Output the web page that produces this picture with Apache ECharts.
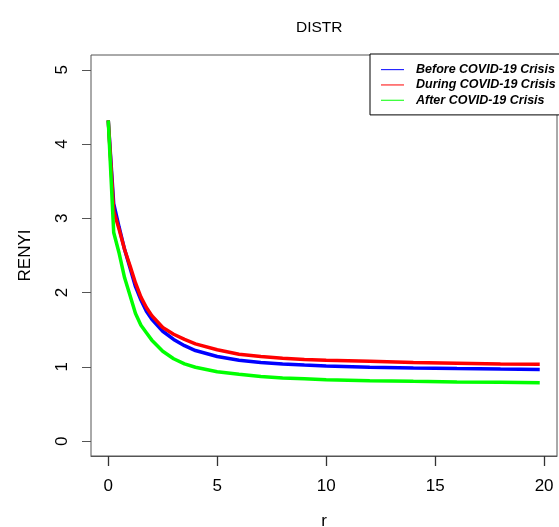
<!DOCTYPE html>
<html>
<head>
<meta charset="utf-8">
<script src="https://cdn.jsdelivr.net/npm/echarts@6/dist/echarts.min.js"></script>
<style>
html,body{margin:0;padding:0;background:#fff;}
#chart{width:559px;height:527px;}
</style>
</head>
<body>
<div id="chart"></div>
<script>
var rValues = [0, 0.25, 0.5, 0.75, 1, 1.25, 1.5, 1.75, 2, 2.5, 3, 3.5, 4, 5, 6, 7, 8, 9, 10, 12, 14, 16, 18, 19.8];
var beforeCrisis = [4.32, 3.20, 2.88, 2.58, 2.33, 2.08, 1.90, 1.75, 1.64, 1.48, 1.37, 1.285, 1.22, 1.14, 1.09, 1.06, 1.04, 1.025, 1.012, 0.995, 0.985, 0.977, 0.97, 0.964];
var duringCrisis = [4.32, 3.10, 2.85, 2.58, 2.36, 2.13, 1.94, 1.80, 1.69, 1.53, 1.44, 1.37, 1.31, 1.23, 1.17, 1.14, 1.115, 1.10, 1.09, 1.075, 1.06, 1.05, 1.04, 1.035];
var afterCrisis = [4.32, 2.81, 2.53, 2.20, 1.96, 1.72, 1.56, 1.46, 1.36, 1.21, 1.11, 1.04, 0.995, 0.935, 0.90, 0.87, 0.85, 0.84, 0.828, 0.815, 0.806, 0.798, 0.792, 0.786];
var seriesNames = ['Before COVID-19 Crisis', 'During COVID-19 Crisis', 'After COVID-19 Crisis'];
var xTicks = [0, 5, 10, 15, 20];
var yTicks = [0, 1, 2, 3, 4, 5];

var xMin = -0.792, xMax = 20.592, yMin = -0.2, yMax = 5.2;

function pairs(vals) {
  return rValues.map(function (r, i) { return [r, vals[i]]; });
}

var font = 'Liberation Sans, Arial, Helvetica, sans-serif';
var chart = echarts.init(document.getElementById('chart'), null, {renderer: 'canvas'});
var axisColor = '#555';

function mkSeries(name, vals, color) {
  return {
    name: name,
    type: 'line',
    data: pairs(vals),
    showSymbol: false,
    symbol: 'none',
    smooth: false,
    lineStyle: {color: color, width: 3.5},
    itemStyle: {color: color},
    emphasis: {disabled: true},
    animation: false
  };
}

chart.setOption({
  animation: false,
  backgroundColor: '#fff',
  title: {
    text: 'DISTR',
    left: 291,
    top: 15,
    textStyle: {fontFamily: font, fontSize: 15.5, fontWeight: 'normal', color: '#000'}
  },
  grid: {
    left: 91, top: 55, width: 466, height: 401,
    outerBoundsMode: 'none',
    containLabel: false,
    show: true, borderColor: axisColor, borderWidth: 1, backgroundColor: 'transparent'
  },
  legend: {
    orient: 'vertical',
    left: 370,
    top: 54,
    padding: [8, 12, 7, 11],
    itemGap: 0,
    itemWidth: 23,
    itemHeight: 1,
    icon: 'rect',
    borderColor: '#000',
    borderWidth: 1,
    backgroundColor: '#fff',
    data: seriesNames,
    textStyle: {
      fontFamily: font, fontSize: 12.5, fontWeight: 'bold', fontStyle: 'italic',
      color: '#000', lineHeight: 15.3, padding: [0, 0, 0, 7]
    }
  },
  xAxis: {
    type: 'value',
    position: 'bottom',
    min: xMin,
    max: xMax,
    name: 'r',
    nameLocation: 'middle',
    nameGap: 57,
    nameTextStyle: {fontFamily: font, fontSize: 17, color: '#000'},
    axisLine: {show: true, onZero: false, lineStyle: {color: axisColor, width: 1}},
    axisTick: {show: true, inside: false, length: 10, customValues: xTicks, lineStyle: {color: '#333', width: 1.3}},
    axisLabel: {customValues: xTicks, fontFamily: font, fontSize: 17, color: '#000', margin: 22},
    splitLine: {show: false}
  },
  yAxis: {
    type: 'value',
    min: yMin,
    max: yMax,
    name: 'RENYI',
    nameLocation: 'middle',
    nameGap: 57,
    nameTextStyle: {fontFamily: font, fontSize: 17, color: '#000'},
    axisLine: {show: false, onZero: false},
    axisTick: {show: true, inside: false, length: 9, customValues: yTicks, lineStyle: {color: axisColor, width: 1}},
    axisLabel: {customValues: yTicks, fontFamily: font, fontSize: 17, color: '#000', margin: 20, rotate: 90},
    splitLine: {show: false}
  },
  series: [
    mkSeries(seriesNames[0], beforeCrisis, '#0000ff'),
    mkSeries(seriesNames[1], duringCrisis, '#ff0000'),
    mkSeries(seriesNames[2], afterCrisis, '#00ff00')
  ]
});
</script>
</body>
</html>
